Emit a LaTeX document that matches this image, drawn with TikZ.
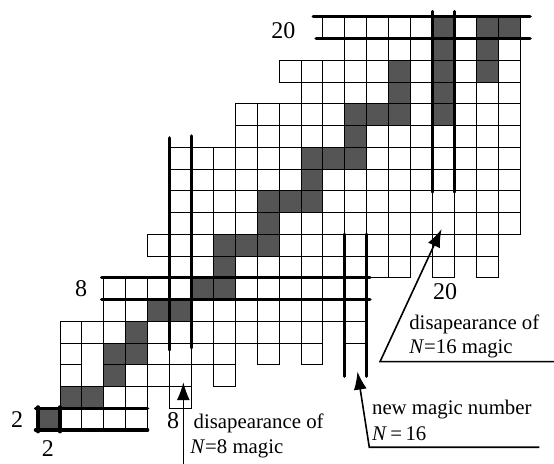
\documentclass[tikz,border=0pt]{standalone}
\usepackage{fontspec}
\setmainfont{Liberation Serif}
\usetikzlibrary{arrows.meta}
\definecolor{shade}{RGB}{85,85,85}
\begin{document}
\begin{tikzpicture}[x=10.9525pt,y=10.875pt,
  cell/.style={draw=black,line width=0.45pt,fill=white},
  scell/.style={draw=black,line width=0.45pt,fill=shade},
  magic/.style={line width=1.7pt,line cap=round},
  lbl/.style={font=\fontsize{12}{14}\selectfont,inner sep=0pt},
  note/.style={font=\fontsize{10.4}{12}\selectfont,inner sep=0pt,anchor=base west},
  pointer/.style={line width=0.8pt,-{Latex[length=9pt,width=6.5pt]}}]
\useasboundingbox (0.2607,0.4368) rectangle (25.552,21.770);
% cells (N horizontal, Z vertical)
\foreach \z/\ns in {2/{2,...,6},3/{3,4,5,6,8},4/{3,5,6,7,8,10},
  5/{3,5,6,7,8,9,10,12,14},6/{3,...,14,16},7/{5,...,16},8/{5,...,16},
  9/{8,...,18,20,22},10/{7,...,22},11/{8,...,23},12/{8,...,23},
  13/{8,...,23},14/{8,...,23},15/{11,...,23},16/{11,...,23},
  17/{14,...,23},18/{13,...,23},19/{16,...,23},20/{15,...,23}}
  \foreach \n in \ns
    \draw[cell] (\n,\z) rectangle ++(1,1);
% stable (shaded) cells
\foreach \n/\z in {2/2,3/3,4/3,5/4,5/5,6/5,6/6,7/7,8/7,9/8,10/8,10/9,
  10/10,11/10,12/10,12/11,12/12,13/12,14/12,14/13,14/14,15/14,16/14,
  16/15,16/16,17/16,18/16,20/16,18/17,20/17,18/18,20/18,22/18,
  20/19,22/19,20/20,22/20,23/20}
  \draw[scell] (\n,\z) rectangle ++(1,1);
% magic number lines
\draw[magic] (1.88,2) -- (7,2);
\draw[magic] (1.88,3) -- (7,3);
\draw[magic] (2,1.92) -- (2,3.06);
\draw[magic] (3,1.92) -- (3,3.06);
\draw[magic] (4.9,8) -- (17.15,8);
\draw[magic] (4.9,9) -- (17.15,9);
\draw[magic] (8,5.68) -- (8,15.43);
\draw[magic] (9,5.78) -- (9,15.52);
\draw[magic] (16,4.47) -- (16,11);
\draw[magic] (17,4.47) -- (17,11);
\draw[magic] (14.69,20) -- (24.46,20);
\draw[magic] (14.56,21) -- (24.46,21);
\draw[magic] (20,12.94) -- (20,21.24);
\draw[magic] (21,12.94) -- (21,21.24);
% labels
\node[lbl] (lz2) at (1.037,2.46) {2};
\node[lbl] (ln2) at (2.45,1.15) {2};
\node[lbl] (lz8) at (3.96,8.48) {8};
\node[lbl] (ln8) at (8.16,2.41) {8};
\node[lbl] (lz20) at (13.20,20.37) {20};
\node[lbl] (ln20) at (20.58,8.34) {20};
% annotation: N=16 disappearance
\node[note] (d16a) at (18.93,6.598) {disapearance of};
\node[note] (d16b) at (18.93,5.494) {\textit{N}=16 magic};
\coordinate (u16e) at (25.6,5.14);
\coordinate (u16s) at (17.61,5.14);
\coordinate (t16) at (20.42,11.24);
\draw[pointer] (u16e) -- (u16s) -- (t16);
% annotation: new magic number
\node[note] (nm1) at (17.23,2.69) {new magic number};
\node[note] (nm2) at (17.23,1.508) {\textit{N}\,=\,16};
\coordinate (unme) at (24.88,1.205);
\coordinate (unms) at (17.12,1.205);
\coordinate (tnm) at (16.58,4.685);
\draw[pointer] (unme) -- (unms) -- (tnm);
% annotation: N=8 disappearance
\node[note] (d8a) at (9.085,2.078) {disapearance of};
\node[note] (d8b) at (8.935,0.929) {\textit{N}=8 magic};
\coordinate (b8) at (8.63,0.2);
\coordinate (t8) at (8.63,4.2);
\draw[pointer] (b8) -- (t8);
\end{tikzpicture}
\end{document}
